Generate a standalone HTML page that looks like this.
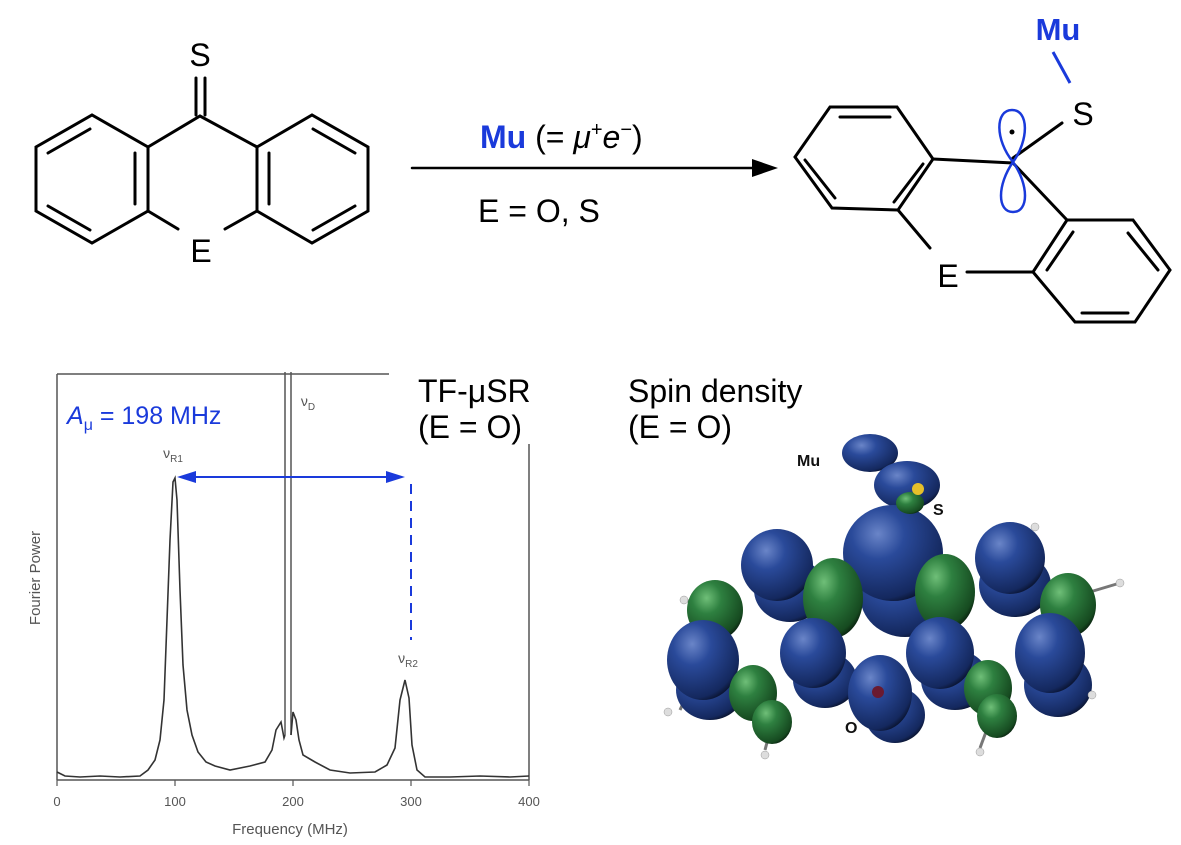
<!DOCTYPE html>
<html><head><meta charset="utf-8"><style>
html,body{margin:0;padding:0;background:#fff;}
body{width:1181px;height:840px;overflow:hidden;font-family:"Liberation Sans",sans-serif;}
</style></head><body>
<svg width="1181" height="840" viewBox="0 0 1181 840" xmlns="http://www.w3.org/2000/svg" font-family="Liberation Sans, sans-serif">
<defs>
<radialGradient id="bl" cx="0.35" cy="0.3" r="0.75"><stop offset="0" stop-color="#6a85c8"/><stop offset="0.35" stop-color="#2a4a9a"/><stop offset="0.9" stop-color="#14285e"/><stop offset="1" stop-color="#0a1430"/></radialGradient>
<radialGradient id="gr" cx="0.35" cy="0.3" r="0.75"><stop offset="0" stop-color="#6fbf78"/><stop offset="0.35" stop-color="#2e8040"/><stop offset="0.9" stop-color="#164a20"/><stop offset="1" stop-color="#0a2410"/></radialGradient>
</defs>
<g stroke="#000" stroke-width="3" fill="none" stroke-linecap="round">
<line x1="196" y1="78" x2="196" y2="115"/><line x1="205" y1="78" x2="205" y2="115"/>
<polyline points="257,147 200,116 148,147"/>
<polygon points="148,147 92,115 36,147 36,211 92,243 148,211"/>
<polygon points="257,147 312,115 368,147 368,211 312,243 257,211"/>
<line x1="148" y1="211" x2="178" y2="229"/><line x1="257" y1="211" x2="225" y2="229"/>
<line x1="135" y1="153" x2="135" y2="204"/><line x1="48" y1="153" x2="90" y2="129"/><line x1="48" y1="206" x2="90" y2="230"/>
<line x1="269" y1="153" x2="269" y2="204"/><line x1="313" y1="129" x2="355" y2="153"/><line x1="313" y1="230" x2="355" y2="206"/>
<line x1="412" y1="168" x2="755" y2="168" stroke-width="2.5"/>
<polygon points="830,107 897,107 933,159 898,210 832,208 795,157"/>
<line x1="840" y1="117" x2="890" y2="117"/><line x1="923" y1="164" x2="894" y2="202"/><line x1="805" y1="160" x2="835" y2="198"/>
<line x1="933" y1="159" x2="1013" y2="163"/>
<line x1="1062" y1="123" x2="1013" y2="158"/>
<line x1="1013" y1="163" x2="1067" y2="220"/>
<line x1="898" y1="210" x2="930" y2="248"/>
<line x1="967" y1="272" x2="1033" y2="272"/>
<polygon points="1067,220 1133,220 1170,270 1135,322 1075,322 1033,272"/>
<line x1="1128" y1="233" x2="1158" y2="270"/><line x1="1082" y1="313" x2="1128" y2="313"/><line x1="1073" y1="232" x2="1047" y2="270"/>
</g>
<polygon points="778,168 752,159 752,177" fill="#000"/>
<line x1="1053" y1="52" x2="1070" y2="83" stroke="#1a3adb" stroke-width="3"/>
<path d="M1013,162 C995,140 995,110 1012,110 C1029,110 1029,140 1013,162 C997,185 997,212 1013,212 C1029,212 1029,185 1013,162Z" fill="none" stroke="#1a3adb" stroke-width="2.5"/>
<circle cx="1012" cy="132" r="2.5" fill="#000"/>
<g font-size="32" fill="#000">
<text x="200" y="66" text-anchor="middle">S</text>
<text x="201" y="262" text-anchor="middle">E</text>
<text x="1083" y="125" text-anchor="middle">S</text>
<text x="948" y="287" text-anchor="middle">E</text>
<text x="480" y="148"><tspan fill="#1a3adb" font-weight="bold">Mu</tspan> (= <tspan font-style="italic">μ</tspan><tspan font-size="20" dy="-12">+</tspan><tspan font-style="italic" dy="12">e</tspan><tspan font-size="20" dy="-12">−</tspan><tspan dy="12">)</tspan></text>
<text x="478" y="222">E = O, S</text>
<text x="418" y="402">TF-μSR</text>
<text x="418" y="438">(E = O)</text>
<text x="628" y="402">Spin density</text>
<text x="628" y="438">(E = O)</text>
</g>
<text x="1058" y="40" text-anchor="middle" font-size="31" font-weight="bold" fill="#1a3adb">Mu</text>
<g stroke="#555" stroke-width="1.5" fill="none">
<line x1="57" y1="374" x2="389" y2="374"/>
<line x1="57" y1="374" x2="57" y2="780"/>
<line x1="529" y1="444" x2="529" y2="780"/>
<line x1="57" y1="780" x2="529" y2="780"/>
<line x1="285" y1="372" x2="285" y2="735"/><line x1="291" y1="372" x2="291" y2="735"/>
</g>
<g stroke="#555" stroke-width="1.2"><line x1="57" y1="780" x2="57" y2="786"/><line x1="175" y1="780" x2="175" y2="786"/><line x1="293" y1="780" x2="293" y2="786"/><line x1="411" y1="780" x2="411" y2="786"/><line x1="529" y1="780" x2="529" y2="786"/></g>
<path d="M57,772 L65,776 L80,777 L100,776 L120,777 L140,776 L148,770 L155,760 L160,740 L164,700 L167,620 L170,540 L173,482 L175,478 L177,500 L180,590 L183,665 L187,710 L192,735 L198,752 L206,762 L215,766 L230,770 L250,766 L265,762 L272,750 L276,730 L281,722 L284,738 L285,735 M291,735 L293,712 L296,720 L299,740 L303,755 L315,762 L330,770 L350,773 L375,772 L387,765 L395,748 L400,700 L405,680 L409,698 L412,745 L417,770 L425,777 L450,777 L480,776 L510,777 L529,776" fill="none" stroke="#333" stroke-width="1.6"/>
<g font-size="13" fill="#555" text-anchor="middle">
<text x="57" y="806">0</text><text x="175" y="806">100</text><text x="293" y="806">200</text><text x="411" y="806">300</text><text x="529" y="806">400</text>
<text x="290" y="834" font-size="15">Frequency (MHz)</text>
<text transform="translate(40,578) rotate(-90)" font-size="15">Fourier Power</text>
<text x="173" y="458" font-size="14">ν<tspan font-size="10" dy="4">R1</tspan></text>
<text x="408" y="663" font-size="14">ν<tspan font-size="10" dy="4">R2</tspan></text>
<text x="308" y="406" font-size="14">ν<tspan font-size="10" dy="4">D</tspan></text>
</g>
<text x="67" y="424" font-size="25" fill="#1a3adb"><tspan font-style="italic">A</tspan><tspan font-size="16" dy="6">μ</tspan><tspan dy="-6"> = 198 MHz</tspan></text>
<g stroke="#1a3adb" stroke-width="2"><line x1="182" y1="477" x2="400" y2="477"/><line x1="411" y1="484" x2="411" y2="640" stroke-dasharray="10,7"/></g>
<polygon points="177,477 196,471 196,483" fill="#1a3adb"/><polygon points="405,477 386,471 386,483" fill="#1a3adb"/>
<!-- spin density -->
<g stroke="#777" stroke-width="3">
<line x1="870" y1="453" x2="905" y2="486"/>
<line x1="680" y1="710" x2="703" y2="660"/><line x1="773" y1="720" x2="765" y2="750"/><line x1="993" y1="713" x2="980" y2="748"/>
<line x1="684" y1="600" x2="715" y2="607"/><line x1="1120" y1="583" x2="1063" y2="600"/><line x1="1092" y1="695" x2="1050" y2="660"/>
</g>
<g>
<ellipse cx="870" cy="453" rx="28" ry="19" fill="url(#bl)"/>
<ellipse cx="907" cy="485" rx="33" ry="24" fill="url(#bl)"/>
<ellipse cx="790" cy="590" rx="36" ry="32" fill="url(#bl)"/>
<ellipse cx="1015" cy="585" rx="36" ry="32" fill="url(#bl)"/>
<ellipse cx="777" cy="565" rx="36" ry="36" fill="url(#bl)"/>
<ellipse cx="1010" cy="558" rx="35" ry="36" fill="url(#bl)"/>
<ellipse cx="905" cy="595" rx="45" ry="42" fill="url(#bl)"/>
<ellipse cx="893" cy="553" rx="50" ry="48" fill="url(#bl)"/>
<ellipse cx="715" cy="610" rx="28" ry="30" fill="url(#gr)"/>
<ellipse cx="833" cy="598" rx="30" ry="40" fill="url(#gr)"/>
<ellipse cx="945" cy="592" rx="30" ry="38" fill="url(#gr)"/>
<ellipse cx="1068" cy="605" rx="28" ry="32" fill="url(#gr)"/>
<ellipse cx="710" cy="690" rx="34" ry="30" fill="url(#bl)"/>
<ellipse cx="825" cy="680" rx="32" ry="28" fill="url(#bl)"/>
<ellipse cx="955" cy="680" rx="34" ry="30" fill="url(#bl)"/>
<ellipse cx="1058" cy="685" rx="34" ry="32" fill="url(#bl)"/>
<ellipse cx="703" cy="660" rx="36" ry="40" fill="url(#bl)"/>
<ellipse cx="813" cy="653" rx="33" ry="35" fill="url(#bl)"/>
<ellipse cx="940" cy="653" rx="34" ry="36" fill="url(#bl)"/>
<ellipse cx="1050" cy="653" rx="35" ry="40" fill="url(#bl)"/>
<ellipse cx="895" cy="715" rx="30" ry="28" fill="url(#bl)"/>
<ellipse cx="880" cy="693" rx="32" ry="38" fill="url(#bl)"/>
<ellipse cx="753" cy="693" rx="24" ry="28" fill="url(#gr)"/>
<ellipse cx="988" cy="688" rx="24" ry="28" fill="url(#gr)"/>
<ellipse cx="772" cy="722" rx="20" ry="22" fill="url(#gr)"/>
<ellipse cx="997" cy="716" rx="20" ry="22" fill="url(#gr)"/>
<ellipse cx="910" cy="503" rx="14" ry="11" fill="url(#gr)"/>
<circle cx="918" cy="489" r="6" fill="#e6c02a"/>
<circle cx="878" cy="692" r="6" fill="#6a1a30"/>
</g>
<g fill="#ddd" stroke="#999" stroke-width="0.5">
<circle cx="684" cy="600" r="4"/><circle cx="668" cy="712" r="4"/><circle cx="765" cy="755" r="4"/><circle cx="980" cy="752" r="4"/><circle cx="1092" cy="695" r="4"/><circle cx="1120" cy="583" r="4"/><circle cx="1035" cy="527" r="4"/>
</g>
<g font-size="16" font-weight="bold" fill="#111">
<text x="797" y="466">Mu</text><text x="933" y="515">S</text><text x="845" y="733">O</text>
</g>
</svg>
</body></html>
